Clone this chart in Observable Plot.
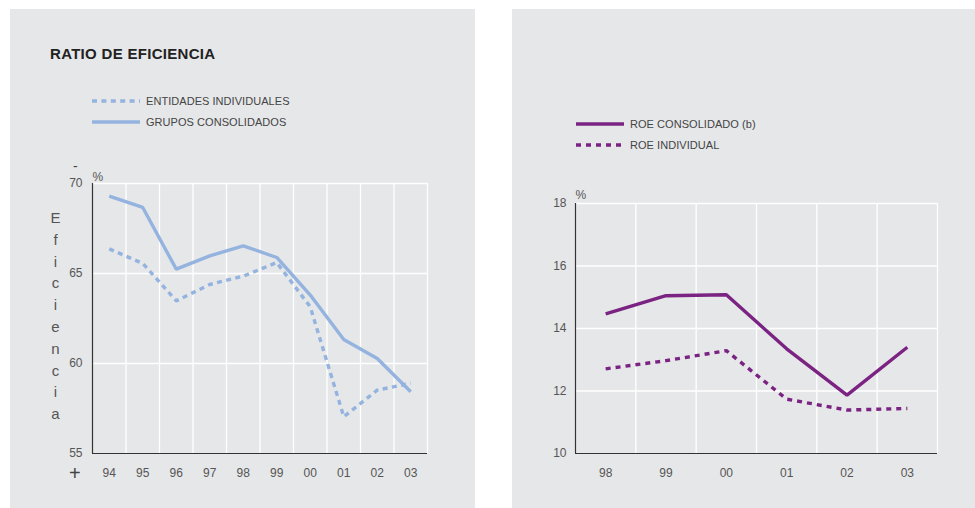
<!DOCTYPE html>
<html>
<head>
<meta charset="utf-8">
<script src="https://cdn.jsdelivr.net/npm/d3@7"></script>
<script src="https://cdn.jsdelivr.net/npm/@observablehq/plot@0.6"></script>
<style>
  html, body { margin: 0; padding: 0; background: #fff; }
  body { width: 975px; height: 508px; position: relative; overflow: hidden;
         font-family: "Liberation Sans", Arial, sans-serif; }
  .panel { position: absolute; top: 9px; height: 499px; background: #e6e7e9; }
  #left { left: 10px; width: 465px; }
  #right { left: 512px; width: 463px; }
  .panel svg.chart { position: absolute; left: 0; top: 0; }
  .title { position: absolute; left: 40px; top: 36px; font-size: 15px; font-weight: bold;
           color: #222; letter-spacing: 0.3px; }
  .legend { position: absolute; font-size: 11px; color: #444; letter-spacing: 0.05px; }
  .legend .row { position: absolute; white-space: nowrap; height: 14px; line-height: 14px; }
  .legend .row svg { position: absolute; left: 0; top: 0; }
  .legend .row span { position: absolute; left: 54px; top: 0; }
  .vlabel { position: absolute; width: 20px; text-align: center; font-size: 15px; color: #555;
            line-height: 21.8px; }
  .sign { position: absolute; color: #444; }
</style>
</head>
<body>
<div class="panel" id="left">
  <div class="title">RATIO DE EFICIENCIA</div>
</div>
<div class="panel" id="right"></div>
<script>
// Ratio de eficiencia (%), 1994-2003
const efYears = ["94", "95", "96", "97", "98", "99", "00", "01", "02", "03"];
const gruposConsolidados = [69.3, 68.67, 65.24, 65.98, 66.54, 65.89, 63.8, 61.33, 60.28, 58.43];
const entidadesIndividuales = [66.37, 65.56, 63.48, 64.39, 64.85, 65.61, 63.15, 57.04, 58.52, 58.9];
const efTicks = [55, 60, 65, 70];

// ROE (%), 1998-2003
const roeYears = ["98", "99", "00", "01", "02", "03"];
const roeConsolidado = [14.47, 15.05, 15.08, 13.35, 11.87, 13.4];
const roeIndividual = [12.71, 12.97, 13.29, 11.74, 11.39, 11.44];
const roeTicks = [10, 12, 14, 16, 18];

const blue = "#94b3df";
const purple = "#7b2382";
const font = "'Liberation Sans', Arial, sans-serif";

// One panel chart: years sit at the centres of equal columns, white grid on grey.
function panelChart({years, series, ticks, width, height, margins, tickPaddingY, percentDy}) {
  const idx = years.map((_, i) => i);
  const bounds = d3.range(years.length + 1).map(i => i - 0.5);
  const rows = series.flatMap(s => s.values.map((v, i) => ({key: s.key, i, v})));
  return Plot.plot({
    width, height, ...margins,
    style: {background: "transparent", fontFamily: font, fontSize: "12px", color: "#555", overflow: "visible"},
    x: {type: "linear", domain: [-0.5, years.length - 0.5]},
    y: {domain: [ticks[0], ticks[ticks.length - 1]]},
    marks: [
      Plot.ruleY(ticks.slice(1), {stroke: "#fff", strokeWidth: 1.3}),
      Plot.ruleX(bounds.slice(1), {stroke: "#fff", strokeWidth: 1.3}),
      Plot.ruleX([bounds[0]], {stroke: "#333", strokeWidth: 1.2}),
      Plot.ruleY([ticks[0]], {stroke: "#333", strokeWidth: 1.2}),
      ...series.map(s => Plot.line(rows.filter(d => d.key === s.key), {
        x: "i", y: "v", stroke: s.color, strokeWidth: 3.4,
        strokeDasharray: s.dash, strokeLinejoin: "miter", strokeLinecap: "butt"
      })),
      Plot.axisY(ticks, {tickSize: 0, tickPadding: tickPaddingY, label: null, fontSize: 12, color: "#555"}),
      Plot.axisX(idx, {tickSize: 0, tickPadding: 15, tickFormat: i => years[i], label: null, fontSize: 12, color: "#555"}),
      Plot.text(["%"], {frameAnchor: "top-left", textAnchor: "start", dx: 0, dy: percentDy, fontSize: 12, fill: "#555"})
    ]
  });
}

function addLegend(panel, {left, top, items}) {
  const box = document.createElement("div");
  box.className = "legend";
  box.style.left = left + "px";
  box.style.top = top + "px";
  items.forEach((it, k) => {
    const row = document.createElement("div");
    row.className = "row";
    row.style.top = (k * it.step) + "px";
    row.innerHTML =
      `<svg width="48" height="14"><line x1="0" x2="48" y1="7" y2="7" stroke="${it.color}" stroke-width="3.4"` +
      (it.dash ? ` stroke-dasharray="${it.dash}"` : "") + `/></svg><span>${it.label}</span>`;
    box.appendChild(row);
  });
  panel.appendChild(box);
}

// Left panel: efficiency ratio
const leftPanel = document.getElementById("left");
const left = panelChart({
  years: efYears,
  series: [
    {key: "grupos", values: gruposConsolidados, color: blue, dash: null},
    {key: "entidades", values: entidadesIndividuales, color: blue, dash: "5 4.4"}
  ],
  ticks: efTicks,
  width: 465, height: 499,
  margins: {marginLeft: 82, marginRight: 48, marginTop: 174, marginBottom: 55},
  tickPaddingY: 10,
  percentDy: -11
});
left.classList.add("chart");
leftPanel.appendChild(left);
addLegend(leftPanel, {left: 82, top: 85, items: [
  {label: "ENTIDADES INDIVIDUALES", color: blue, dash: "5 4.4", step: 21.3},
  {label: "GRUPOS CONSOLIDADOS", color: blue, dash: null, step: 21.3}
]});

// Vertical axis caption and the direction signs
const vl = document.createElement("div");
vl.className = "vlabel";
vl.style.left = "35.5px";
vl.style.top = "198px";
vl.innerHTML = "Eficiencia".split("").map(c => `<div>${c}</div>`).join("");
leftPanel.appendChild(vl);
const minus = document.createElement("div");
minus.className = "sign";
minus.style.cssText = "left:63px;top:149px;font-size:14px;";
minus.textContent = "-";
leftPanel.appendChild(minus);
const plus = document.createElement("div");
plus.className = "sign";
plus.style.cssText = "left:59px;top:453px;font-size:20px;";
plus.textContent = "+";
leftPanel.appendChild(plus);

// Right panel: ROE
const rightPanel = document.getElementById("right");
const right = panelChart({
  years: roeYears,
  series: [
    {key: "consolidado", values: roeConsolidado, color: purple, dash: null},
    {key: "individual", values: roeIndividual, color: purple, dash: "5 5"}
  ],
  ticks: roeTicks,
  width: 463, height: 499,
  margins: {marginLeft: 63, marginRight: 38, marginTop: 194, marginBottom: 55},
  tickPaddingY: 9,
  percentDy: -13
});
right.classList.add("chart");
rightPanel.appendChild(right);
addLegend(rightPanel, {left: 64, top: 108, items: [
  {label: "ROE CONSOLIDADO (b)", color: purple, dash: null, step: 21},
  {label: "ROE INDIVIDUAL", color: purple, dash: "5 5", step: 21}
]});
</script>
</body>
</html>
